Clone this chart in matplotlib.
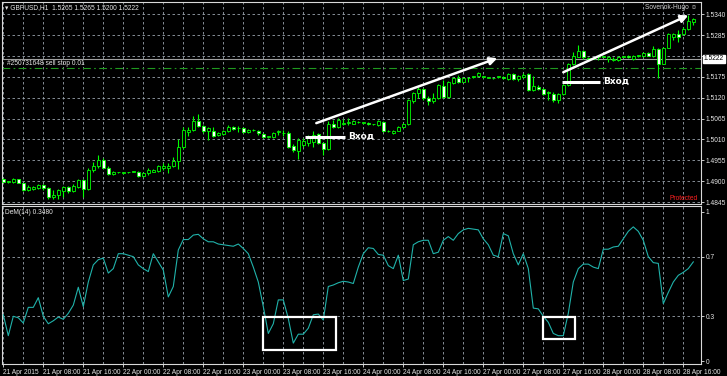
import matplotlib
matplotlib.use('Agg')
import matplotlib.pyplot as plt
import matplotlib.transforms as mtransforms
from matplotlib.patches import Rectangle

# GBPUSD H1 bars, 21 Apr 2015 00:00 .. 28 Apr 18:00
opens = [1.4906, 1.4899, 1.4897, 1.4905, 1.4894, 1.4877, 1.4879, 1.4881, 1.4890, 1.4881,
         1.4858, 1.4864, 1.4874, 1.4884, 1.4875, 1.4885, 1.4903, 1.4879, 1.4929, 1.4940,
         1.4956, 1.4935, 1.4918, 1.4923, 1.4922, 1.4923, 1.4925, 1.4925, 1.4914, 1.4921,
         1.4925, 1.4927, 1.4936, 1.4936, 1.4940, 1.4954, 1.4989, 1.5030, 1.5035, 1.5059,
         1.5045, 1.5033, 1.5033, 1.5021, 1.5024, 1.5033, 1.5042, 1.5039, 1.5039, 1.5029,
         1.5035, 1.5033, 1.5024, 1.5017, 1.5016, 1.5030, 1.5026, 1.5028, 1.4992, 1.4980,
         1.4995, 1.5001, 1.5004, 1.5024, 1.5001, 1.4985, 1.5052, 1.5043, 1.5052, 1.5054,
         1.5052, 1.5056, 1.5054, 1.5054, 1.5050, 1.5048, 1.5056, 1.5032, 1.5027, 1.5033,
         1.5043, 1.5050, 1.5111, 1.5133, 1.5142, 1.5120, 1.5110, 1.5118, 1.5150, 1.5122,
         1.5159, 1.5171, 1.5162, 1.5171, 1.5175, 1.5177, 1.5175, 1.5173, 1.5171, 1.5175,
         1.5175, 1.5169, 1.5182, 1.5168, 1.5175, 1.5182, 1.5140, 1.5148, 1.5142, 1.5132,
         1.5129, 1.5115, 1.5129, 1.5153, 1.5208, 1.5228, 1.5243, 1.5222, 1.5223, 1.5228,
         1.5228, 1.5222, 1.5219, 1.5219, 1.5228, 1.5229, 1.5222, 1.5230, 1.5229, 1.5237,
         1.5229, 1.5247, 1.5210, 1.5251, 1.5280, 1.5287, 1.5287, 1.5300, 1.5320]
highs = [1.4908, 1.4901, 1.4908, 1.4907, 1.4896, 1.4890, 1.4887, 1.4892, 1.4892, 1.4884,
         1.4877, 1.4879, 1.4887, 1.4887, 1.4892, 1.4907, 1.4907, 1.4935, 1.4951, 1.4969,
         1.4961, 1.4940, 1.4927, 1.4925, 1.4924, 1.4925, 1.4927, 1.4928, 1.4924, 1.4934,
         1.4932, 1.4943, 1.4948, 1.4947, 1.4964, 1.5010, 1.5043, 1.5042, 1.5072, 1.5077,
         1.5048, 1.5043, 1.5043, 1.5030, 1.5036, 1.5048, 1.5045, 1.5045, 1.5042, 1.5038,
         1.5037, 1.5036, 1.5027, 1.5019, 1.5029, 1.5035, 1.5035, 1.5032, 1.4999, 1.5014,
         1.5014, 1.5021, 1.5033, 1.5027, 1.5004, 1.5058, 1.5061, 1.5066, 1.5064, 1.5067,
         1.5061, 1.5058, 1.5057, 1.5057, 1.5052, 1.5061, 1.5059, 1.5034, 1.5036, 1.5046,
         1.5053, 1.5116, 1.5135, 1.5149, 1.5145, 1.5124, 1.5132, 1.5156, 1.5166, 1.5163,
         1.5175, 1.5179, 1.5174, 1.5175, 1.5177, 1.5187, 1.5177, 1.5175, 1.5173, 1.5177,
         1.5178, 1.5185, 1.5185, 1.5180, 1.5184, 1.5185, 1.5177, 1.5153, 1.5145, 1.5137,
         1.5135, 1.5132, 1.5156, 1.5211, 1.5241, 1.5258, 1.5246, 1.5226, 1.5225, 1.5232,
         1.5230, 1.5229, 1.5226, 1.5231, 1.5230, 1.5232, 1.5232, 1.5232, 1.5240, 1.5240,
         1.5256, 1.5250, 1.5254, 1.5290, 1.5291, 1.5298, 1.5306, 1.5337, 1.5329]
lows = [1.4897, 1.4896, 1.4895, 1.4894, 1.4874, 1.4874, 1.4876, 1.4879, 1.4877, 1.4853,
        1.4852, 1.4853, 1.4859, 1.4870, 1.4871, 1.4881, 1.4859, 1.4877, 1.4925, 1.4936,
        1.4934, 1.4916, 1.4916, 1.4921, 1.4920, 1.4921, 1.4923, 1.4912, 1.4912, 1.4916,
        1.4923, 1.4925, 1.4929, 1.4922, 1.4938, 1.4931, 1.4986, 1.5018, 1.5033, 1.5043,
        1.5026, 1.5008, 1.5016, 1.5018, 1.5021, 1.5030, 1.5034, 1.5030, 1.5027, 1.5026,
        1.5033, 1.5023, 1.5014, 1.5015, 1.5013, 1.5021, 1.5019, 1.4987, 1.4976, 1.4959,
        1.4991, 1.4992, 1.4991, 1.4998, 1.4969, 1.4982, 1.5040, 1.5040, 1.5048, 1.5048,
        1.5050, 1.5054, 1.5052, 1.5048, 1.5048, 1.5045, 1.5030, 1.5030, 1.5025, 1.5031,
        1.5041, 1.5048, 1.5105, 1.5118, 1.5115, 1.5100, 1.5105, 1.5116, 1.5120, 1.5120,
        1.5157, 1.5158, 1.5160, 1.5162, 1.5173, 1.5175, 1.5173, 1.5171, 1.5169, 1.5173,
        1.5168, 1.5166, 1.5166, 1.5165, 1.5172, 1.5137, 1.5138, 1.5139, 1.5128, 1.5114,
        1.5109, 1.5106, 1.5126, 1.5150, 1.5205, 1.5226, 1.5223, 1.5217, 1.5221, 1.5219,
        1.5226, 1.5214, 1.5217, 1.5217, 1.5226, 1.5224, 1.5220, 1.5228, 1.5227, 1.5229,
        1.5228, 1.5171, 1.5208, 1.5250, 1.5272, 1.5267, 1.5285, 1.5298, 1.5311]
closes = [1.4899, 1.4899, 1.4906, 1.4896, 1.4877, 1.4885, 1.4884, 1.4890, 1.4881, 1.4859,
          1.4865, 1.4877, 1.4884, 1.4875, 1.4887, 1.4903, 1.4879, 1.4929, 1.4940, 1.4957,
          1.4935, 1.4918, 1.4925, 1.4923, 1.4922, 1.4923, 1.4925, 1.4914, 1.4921, 1.4929,
          1.4929, 1.4940, 1.4940, 1.4940, 1.4953, 1.4989, 1.5035, 1.5035, 1.5059, 1.5045,
          1.5032, 1.5039, 1.5019, 1.5027, 1.5033, 1.5043, 1.5037, 1.5039, 1.5030, 1.5035,
          1.5035, 1.5026, 1.5017, 1.5017, 1.5026, 1.5030, 1.5026, 1.4989, 1.4982, 1.5008,
          1.5006, 1.5013, 1.5021, 1.5001, 1.4984, 1.5052, 1.5043, 1.5061, 1.5052, 1.5054,
          1.5058, 1.5056, 1.5054, 1.5050, 1.5050, 1.5058, 1.5033, 1.5032, 1.5033, 1.5043,
          1.5050, 1.5114, 1.5133, 1.5142, 1.5118, 1.5111, 1.5118, 1.5153, 1.5122, 1.5160,
          1.5172, 1.5162, 1.5171, 1.5171, 1.5175, 1.5184, 1.5175, 1.5173, 1.5171, 1.5175,
          1.5171, 1.5182, 1.5169, 1.5177, 1.5181, 1.5140, 1.5150, 1.5142, 1.5131, 1.5135,
          1.5115, 1.5129, 1.5153, 1.5208, 1.5229, 1.5243, 1.5226, 1.5222, 1.5223, 1.5228,
          1.5228, 1.5226, 1.5223, 1.5228, 1.5228, 1.5226, 1.5229, 1.5230, 1.5237, 1.5231,
          1.5247, 1.5210, 1.5251, 1.5287, 1.5287, 1.5279, 1.5300, 1.5322, 1.5326]

# DeMarker(14)
dem = [0.31, 0.17, 0.30, 0.29, 0.255, 0.36, 0.36, 0.425, 0.30, 0.25,
       0.27, 0.295, 0.28, 0.32, 0.375, 0.495, 0.365, 0.53, 0.645, 0.68,
       0.69, 0.59, 0.62, 0.72, 0.72, 0.71, 0.70, 0.645, 0.62, 0.60,
       0.72, 0.665, 0.61, 0.43, 0.50, 0.745, 0.815, 0.815, 0.845, 0.85,
       0.82, 0.80, 0.80, 0.785, 0.78, 0.775, 0.77, 0.785, 0.755, 0.72,
       0.63, 0.53, 0.365, 0.185, 0.25, 0.41, 0.41, 0.285, 0.12, 0.18,
       0.18, 0.22, 0.31, 0.315, 0.275, 0.50, 0.51, 0.525, 0.535, 0.53,
       0.52, 0.63,
       0.72, 0.76, 0.755, 0.715, 0.71, 0.64, 0.62, 0.71, 0.54, 0.55,
       0.78, 0.80, 0.81, 0.81, 0.72, 0.73, 0.81, 0.835, 0.81, 0.855,
       0.88, 0.89, 0.885, 0.88, 0.82, 0.78, 0.71, 0.70, 0.855, 0.84,
       0.72, 0.645, 0.72, 0.62, 0.355, 0.35, 0.30, 0.26, 0.185, 0.17,
       0.17, 0.32, 0.53, 0.62, 0.65, 0.65, 0.63, 0.62, 0.75, 0.75,
       0.765, 0.77, 0.82, 0.87, 0.90, 0.87, 0.81, 0.70, 0.66, 0.655,
       0.385, 0.46, 0.53, 0.575, 0.595, 0.62, 0.665]

time_labels = ['21 Apr 2015', '21 Apr 08:00', '21 Apr 16:00', '22 Apr 00:00', '22 Apr 08:00',
               '22 Apr 16:00', '23 Apr 00:00', '23 Apr 08:00', '23 Apr 16:00', '24 Apr 00:00',
               '24 Apr 08:00', '24 Apr 16:00', '27 Apr 00:00', '27 Apr 08:00', '27 Apr 16:00',
               '28 Apr 00:00', '28 Apr 08:00', '28 Apr 16:00']
price_ticks = [1.5340, 1.5285, 1.5230, 1.5175, 1.5120, 1.5065, 1.5010, 1.4955, 1.4900, 1.4845]
dem_ticks = [1, 0.7, 0.3, 0]
dem_levels = [0.7, 0.3]
last_price = 1.5222
order_price = 1.5198
header = '\u25be GBPUSD,H1  1.5265 1.5265 1.5200 1.5222'

# annotations drawn by hand on the chart (bar index, price / value)
arrows = [((62.6, 1.5053), (98.8, 1.5224)), ((112.0, 1.5187), (137.0, 1.5337))]
entries = [(60.4, 68.4, 1.5016), (111.8, 119.4, 1.5161)]
boxes = [(52.0, 0.074, 14.6, 0.221), (108.0, 0.148, 6.4, 0.147)]

BG = 'black'
GRID = '#9aa3ad'
BULL = '#00ff00'
TXT = '#e6e6e6'
FONT = ['Liberation Sans Narrow', 'Liberation Sans', 'DejaVu Sans']
FS = 4.8

plt.rcParams['font.family'] = FONT

n = len(closes)
x = list(range(n))

fig = plt.figure(figsize=(7.27, 3.76), dpi=100, facecolor=BG)
ax1 = fig.add_axes([2 / 727, 1 - 204 / 376, 699 / 727, 202 / 376], facecolor=BG)
ax2 = fig.add_axes([2 / 727, 1 - 364 / 376, 699 / 727, 158 / 376], facecolor=BG)

xmin, xmax = -0.26, 139.54
for ax in (ax1, ax2):
    ax.set_xlim(xmin, xmax)
    for s in ax.spines.values():
        s.set_color('#d8d8d8')
        s.set_linewidth(0.8)
    ax.yaxis.tick_right()
    ax.tick_params(axis='y', colors=TXT, labelsize=FS, length=2, width=0.6, pad=1.5)
    for gx in range(0, 140, 4):
        ax.axvline(gx, color=GRID, lw=0.6, dashes=(3, 3), zorder=0)

# main price panel
ax1.set_ylim(1.4840, 1.5372)
ax1.set_yticks(price_ticks)
ax1.set_yticklabels(['%.4f' % p if abs(p - 1.5230) > 1e-6 else '' for p in price_ticks])
for p in price_ticks:
    ax1.axhline(p, color=GRID, lw=0.6, dashes=(3, 3), zorder=0)
ax1.set_xticks([])

ax1.axhline(last_price, color='#9c9c9c', lw=0.8, zorder=1)
ax1.axhline(order_price, color='#1f9a1f', lw=0.8, dashes=(7, 3, 1.5, 3), zorder=1)

ax1.vlines(x, lows, highs, color=BULL, lw=0.8, zorder=2)
for i in range(n):
    o, c = opens[i], closes[i]
    lo = min(o, c)
    h = max(abs(c - o), 0.00012)
    face = 'white' if c < o else BG
    ax1.add_patch(Rectangle((i - 0.3, lo), 0.6, h, facecolor=face, edgecolor=BULL,
                            lw=0.6, zorder=3))

blend1 = mtransforms.blended_transform_factory(ax1.transAxes, ax1.transData)
ax1.text(1.004, last_price, '1.5222', transform=blend1, ha='left', va='center',
         fontsize=FS, color='black', clip_on=False,
         bbox=dict(facecolor='white', edgecolor='white', pad=0.6))
ax1.text(0.005, 0.975, header, transform=ax1.transAxes, ha='left', va='center',
         fontsize=FS, color=TXT)
ax1.text(0.995, 0.975, 'Sovenok-Hugo \u263a', transform=ax1.transAxes, ha='right',
         va='center', fontsize=FS, color='#cfcfcf')
ax1.text(0.995, 0.025, 'Protected', transform=ax1.transAxes, ha='right', va='center',
         fontsize=FS, color='#ff2020')
ax1.text(0.007, order_price + 0.0003, '#250731648 sell stop 0.01', transform=blend1,
         ha='left', va='bottom', fontsize=FS, color=TXT)

for (x0, y0), (x1, y1) in arrows:
    ax1.annotate('', xy=(x1, y1), xytext=(x0, y0),
                 arrowprops=dict(arrowstyle='-|>', color='white', lw=1.8,
                                 mutation_scale=11, shrinkA=0, shrinkB=0), zorder=5)
for xa, xb, p in entries:
    ax1.plot([xa, xb], [p, p], color='white', lw=2.2, solid_capstyle='butt', zorder=5)
    ax1.text(xb + 0.5, p + 0.0003, 'Вход', ha='left', va='center', fontsize=6.5,
             fontweight='bold', color='white', family=['DejaVu Sans'], zorder=5)

# DeMarker panel
ax2.set_ylim(-0.02, 1.04)
ax2.set_yticks(dem_ticks)
ax2.set_yticklabels(['1', '0.7', '0.3', '0'])
for lv in dem_levels:
    ax2.axhline(lv, color=GRID, lw=0.6, dashes=(3, 3), zorder=0)
ax2.plot(x, dem, color='#20b2aa', lw=0.8, zorder=3)
ax2.text(0.005, 0.956, 'DeM(14) 0.3480', transform=ax2.transAxes, ha='left', va='center',
         fontsize=FS, color=TXT)
for bx, by, bw, bh in boxes:
    ax2.add_patch(Rectangle((bx, by), bw, bh, fill=False, edgecolor='white', lw=1.6,
                            zorder=5))

ax2.set_xticks(range(0, 137, 8))
ax2.set_xticklabels(time_labels, ha='left')
ax2.tick_params(axis='x', colors=TXT, labelsize=FS, length=2, width=0.6, pad=1.5)

fig.savefig('out.png', dpi=100, facecolor=BG)
